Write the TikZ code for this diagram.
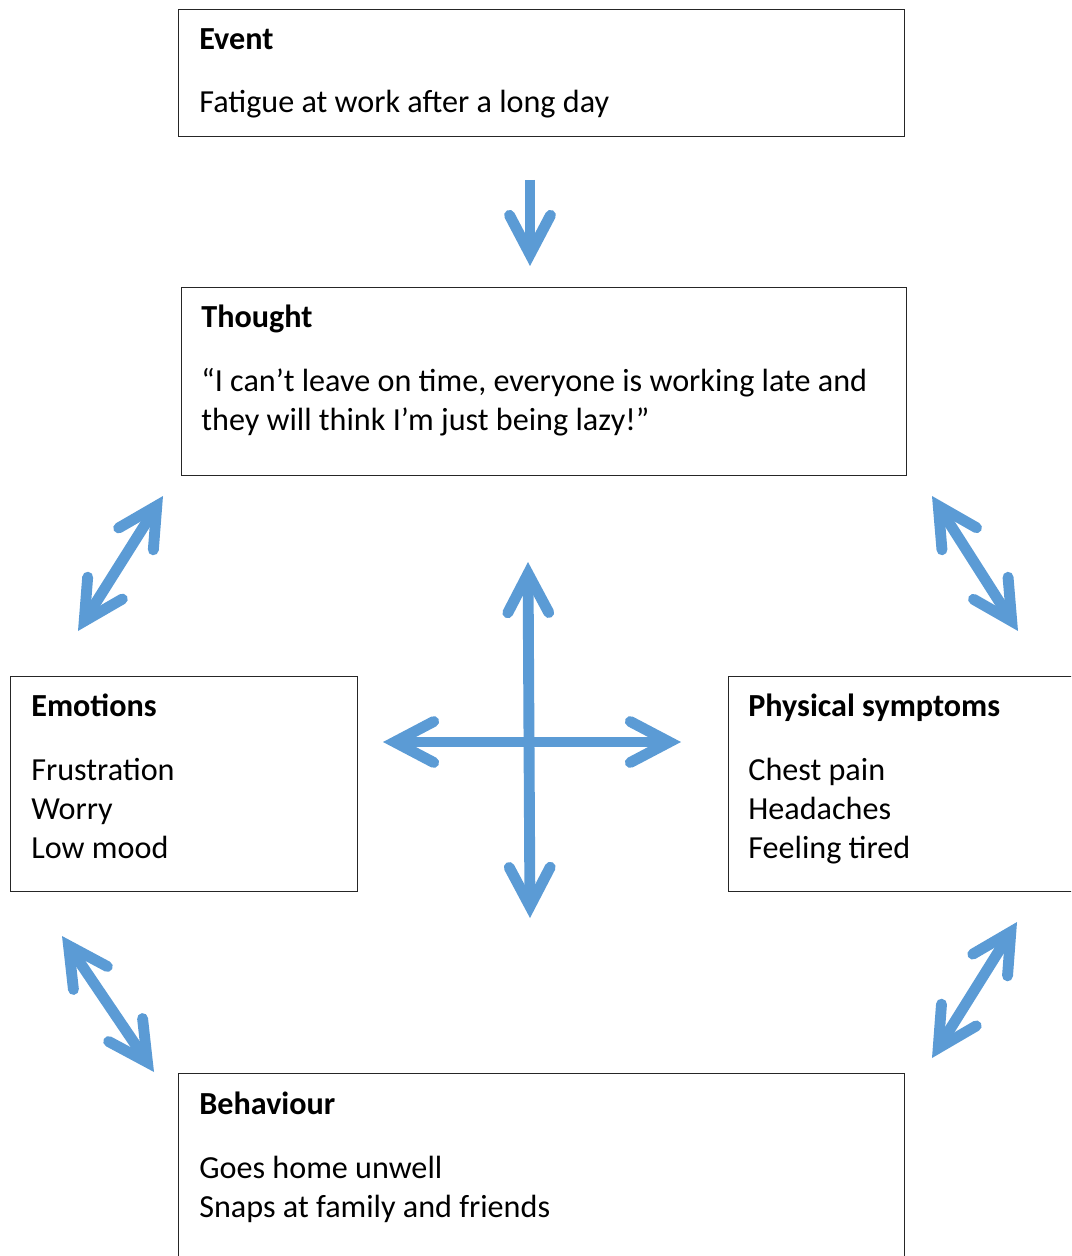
\documentclass[tikz,border=0pt]{standalone}
\usepackage{fontspec}
\setmainfont{Carlito}
\definecolor{cbtblue}{RGB}{91,155,213}
\usetikzlibrary{arrows.meta,positioning}

\begin{document}
\begin{tikzpicture}[x=0.02cm, y=-0.02cm,
  panel/.style={draw=black!85, line width=0.8pt, anchor=north west, inner sep=0pt},
  paneltext/.style={anchor=north west, inner sep=0pt, align=left,
    font=\fontsize{18.3}{22.1}\selectfont},
  barb/.tip={Straight Barb[length=0.78cm, width=0.82cm, line cap=round, line join=miter]},
  link/.style={cbtblue, line width=6.2pt, {barb}-{barb}},
  oneway/.style={cbtblue, line width=6.2pt, -{barb}}]

\useasboundingbox (0,0) rectangle (1071,1256);
\clip (0,0) rectangle (1071,1256);

% Boxes
\node[panel, minimum width=14.52cm, minimum height=2.54cm] (event) at (178,9) {};
\node[panel, minimum width=14.5cm, minimum height=3.76cm] (thought) at (181,287) {};
\node[panel, minimum width=6.94cm, minimum height=4.3cm] (emotions) at (10,676) {};
\node[panel, minimum width=7.4cm, minimum height=4.3cm] (physical) at (728,676) {};
\node[panel, minimum width=14.52cm, minimum height=4.8cm] (behaviour) at (178,1073) {};

\node[paneltext] (eventtxt) at ([shift={(21,19)}]event.north west) {%
  \textbf{Event}\\[14pt]
  Fatigue at work after a long day};
\node[paneltext] (thoughttxt) at ([shift={(20,18)}]thought.north west) {%
  \textbf{Thought}\\[14pt]
  “I can’t leave on time, everyone is working late and\\
  they will think I’m just being lazy!”};
\node[paneltext] (emotionstxt) at ([shift={(21,18)}]emotions.north west) {%
  \textbf{Emotions}\\[14pt]
  Frustration\\
  Worry\\
  Low mood};
\node[paneltext] (physicaltxt) at ([shift={(20,18)}]physical.north west) {%
  \textbf{Physical symptoms}\\[14pt]
  Chest pain\\
  Headaches\\
  Feeling tired};
\node[paneltext] (behaviourtxt) at ([shift={(21,19)}]behaviour.north west) {%
  \textbf{Behaviour}\\[14pt]
  Goes home unwell\\
  Snaps at family and friends};

% Arrow ends
\coordinate (evt) at (530,180);
\coordinate (tht) at (530,266);
\coordinate (te1) at (163,496);
\coordinate (te2) at (78,631);
\coordinate (tp1) at (932,496);
\coordinate (tp2) at (1018,631);
\coordinate (eb1) at (62,936);
\coordinate (eb2) at (154,1072);
\coordinate (pb1) at (1017,922);
\coordinate (pb2) at (932,1058);
\coordinate (up) at (528,562);
\coordinate (down) at (530,918);
\coordinate (left) at (383,742);
\coordinate (right) at (681,742);

% Connecting arrows
\draw[oneway] (evt) -- (tht);
\draw[link] (te1) -- (te2);
\draw[link] (tp1) -- (tp2);
\draw[link] (eb1) -- (eb2);
\draw[link] (pb1) -- (pb2);
\draw[link] (up) -- (down);
\draw[link] (left) -- (right);

\end{tikzpicture}
\end{document}
